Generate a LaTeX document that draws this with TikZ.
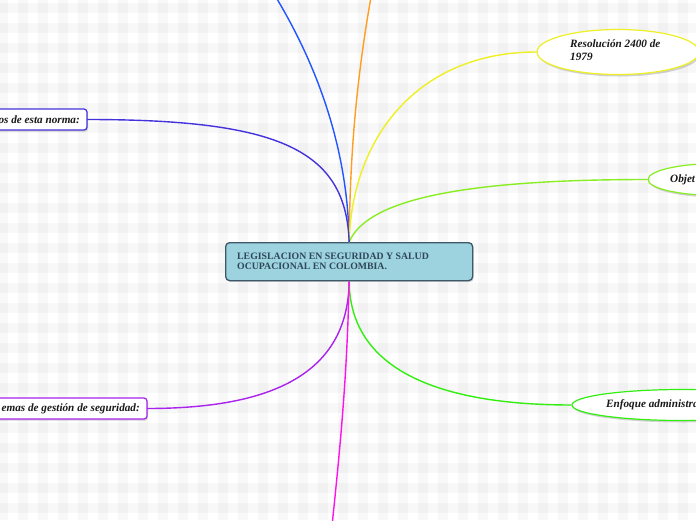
\documentclass[tikz,border=0pt]{standalone}
\usepackage{fontspec}
\setmainfont{Liberation Serif}
\usetikzlibrary{shapes.geometric,shadows}
\definecolor{cfill}{HTML}{9DD2DF}
\definecolor{cborder}{HTML}{3D5868}
\definecolor{ctext}{HTML}{2E4759}
\definecolor{cblue}{HTML}{2255FF}
\definecolor{corange}{HTML}{FF9C22}
\definecolor{cyellow}{HTML}{EEF022}
\definecolor{cgreenA}{HTML}{88EE22}
\definecolor{cgreenB}{HTML}{33EE11}
\definecolor{cindigo}{HTML}{4433DD}
\definecolor{cpurple}{HTML}{AA22EE}
\definecolor{cmagenta}{HTML}{FF11EE}
\definecolor{stripe}{HTML}{F8F8F8}
\definecolor{cross}{HTML}{F1F1F1}
\tikzset{
  branch/.style={line width=1.4pt},
  leaftext/.style={font=\fontsize{11.2}{13}\selectfont\bfseries\itshape, text=black!90, inner sep=0pt},
  boxleaf/.style={draw, line width=1.2pt, fill=white, rounded corners=3pt,
     drop shadow={shadow xshift=1pt, shadow yshift=-1.5pt, opacity=0.35}},
  ellleaf/.style={draw, line width=1.2pt, fill=white, ellipse,
     drop shadow={shadow xshift=1.5pt, shadow yshift=-2pt, opacity=0.35}},
}
\begin{document}
\begin{tikzpicture}[x=1pt,y=-1pt]
\useasboundingbox (0,0) rectangle (696,520);
% gingham background
\fill[white] (0,0) rectangle (696,520);
\foreach \x in {-2,18,...,698} \fill[stripe] (\x,0) rectangle ++(10,520);
\foreach \y in {3,23,...,523} \fill[stripe] (0,\y) rectangle ++(696,10);
\foreach \x in {-2,18,...,698} \foreach \y in {3,23,...,523} \fill[cross] (\x,\y) rectangle ++(10,10);

% central node
\node[draw=cborder, line width=1.3pt, fill=cfill, rounded corners=4pt,
      minimum width=247pt, minimum height=38pt, anchor=north west,
      drop shadow={shadow xshift=1pt, shadow yshift=-1.5pt, opacity=0.3}]
  (c) at (225,242) {};
\node[anchor=north west, inner sep=0pt, align=left, text=ctext,
      font=\fontsize{9.8}{10.6}\selectfont\bfseries]
  (ct) at (237,252.5) {LEGISLACION EN SEGURIDAD Y SALUD\\OCUPACIONAL EN COLOMBIA.};

% leaf nodes
\path[boxleaf, draw=cindigo] (-6,109) rectangle (87,130);
\node[leaftext, anchor=east] (n1) at (80,119.5) {os de esta norma:};
\coordinate (n1e) at (87,119.5);

\path[boxleaf, draw=cpurple] (-6,398) rectangle (147,419);
\node[leaftext, anchor=east] (n2) at (140,408.5) {emas de gestión de seguridad:};
\coordinate (n2e) at (147,408.5);

\node[ellleaf, draw=cyellow, minimum width=162pt, minimum height=45pt] (r) at (618,52) {};
\node[leaftext, anchor=north west, align=left] (rt) at (570,39.5) {Resolución 2400 de\\1979};

\node[ellleaf, draw=cgreenA, minimum width=140pt, minimum height=32pt] (o) at (718,179.5) {};
\node[leaftext, anchor=west] (ot) at (670,179.5) {Objet};

\node[ellleaf, draw=cgreenB, minimum width=220pt, minimum height=31pt] (e) at (682,405) {};
\node[leaftext, anchor=west] (et) at (606,405) {Enfoque administra};

\coordinate (bt) at (262,-25);
\coordinate (ot2) at (375,-25);
\coordinate (mb) at (330,545);

% connectors
\draw[branch, cblue] (c.north) .. controls (348,150) and (318,60) .. (bt);
\draw[branch, corange] (c.north) .. controls (350,150) and (357,70) .. (ot2);
\draw[branch, cyellow] (c.north) .. controls (352,135) and (420,52) .. (r.west);
\draw[branch, cgreenA] (c.north) .. controls (365,205) and (440,179.5) .. (o.west);
\draw[branch, cindigo] (c.north) .. controls (346,150) and (280,119.5) .. (n1e);
\draw[branch, cpurple] (c.south) .. controls (348,375) and (270,408.5) .. (n2e);
\draw[branch, cgreenB] (c.south) .. controls (350,380) and (460,405) .. (e.west);
\draw[branch, cmagenta] (c.south) .. controls (347,380) and (340,450) .. (mb);
\end{tikzpicture}
\end{document}
